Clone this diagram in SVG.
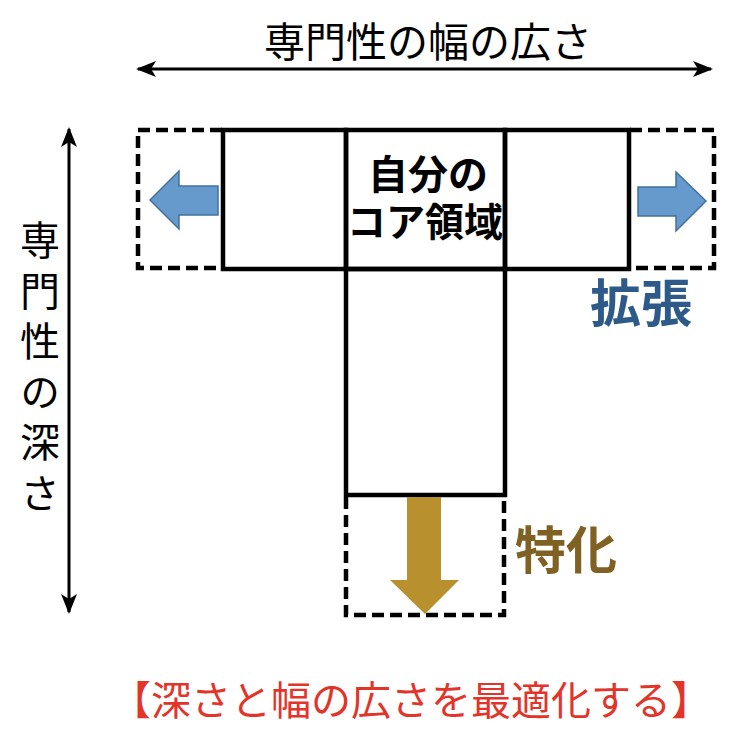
<svg xmlns="http://www.w3.org/2000/svg" width="748" height="742" viewBox="0 0 748 742">
<defs>
<style>
.jp{font-family:"Noto Sans CJK JP","Noto Sans",sans-serif;}
.solid{fill:none;stroke:#000;stroke-width:4.5;}
.dash{fill:none;stroke:#000;stroke-width:4.5;stroke-dasharray:12 6;}
.axis{stroke:#000;stroke-width:3;fill:none;}
.vert{writing-mode:vertical-rl;letter-spacing:10.5px;}
</style>
<marker id="head" viewBox="0 0 20 16" refX="18" refY="8" markerWidth="20" markerHeight="16" markerUnits="userSpaceOnUse" orient="auto-start-reverse">
<path d="M0,0 L20,8 L0,16 L5,8 Z" fill="#000"/>
</marker>
</defs>
<rect width="748" height="742" fill="#fff"/>

<g id="connectors">
<line class="axis" x1="138" y1="69" x2="711" y2="69" marker-start="url(#head)" marker-end="url(#head)"/>
<line class="axis" x1="69" y1="129" x2="69" y2="612" marker-start="url(#head)" marker-end="url(#head)"/>
</g>

<g id="width-label">
<text class="jp" x="428" y="57" font-size="41" text-anchor="middle" fill="#000">専門性の幅の広さ</text>
</g>

<g id="depth-label">
<text class="jp vert" x="40" y="220" font-size="40" fill="#000">専門性の深さ</text>
</g>

<g id="left-expansion">
<path class="dash" d="M222,130 H138 V268 H222"/>
<path d="M150,200 L179,171 L179,186 L218,186 L218,215 L179,215 L179,229 Z" fill="#6699CC" stroke="#41719C" stroke-width="1.5"/>
</g>

<g id="right-expansion">
<path class="dash" d="M630,130 H714 V268 H630"/>
<path d="M706,201 L676,172 L676,187 L638,187 L638,216 L676,216 L676,231 Z" fill="#6699CC" stroke="#41719C" stroke-width="1.5"/>
</g>

<g id="left-cell"><rect class="solid" x="223" y="130" width="123" height="139"/></g>
<g id="core-cell">
<rect class="solid" x="346" y="130" width="159" height="139"/>
<text class="jp" font-weight="bold" text-anchor="middle" fill="#000"><tspan x="428" y="189" font-size="40">自分の</tspan><tspan x="425" y="236" font-size="39">コア領域</tspan></text>
</g>
<g id="right-cell"><rect class="solid" x="505" y="130" width="124" height="139"/></g>
<g id="stem"><rect class="solid" x="346" y="269" width="159" height="226"/></g>

<g id="specialization">
<path class="dash" d="M346,497 V615 H504 V497"/>
<path d="M407,497 L441,497 L441,580 L459,580 L425,614 L390,580 L407,580 Z" fill="#B8902E"/>
</g>

<g id="expand-label">
<text class="jp" x="641" y="322" font-size="51" font-weight="bold" text-anchor="middle" fill="#2E5A8A">拡張</text>
</g>
<g id="special-label">
<text class="jp" x="566" y="569" font-size="51" font-weight="bold" text-anchor="middle" fill="#7F6223">特化</text>
</g>

<g id="summary">
<text class="jp" x="411" y="715" font-size="40" text-anchor="middle" fill="#E3342A">【深さと幅の広さを最適化する】</text>
</g>
</svg>
